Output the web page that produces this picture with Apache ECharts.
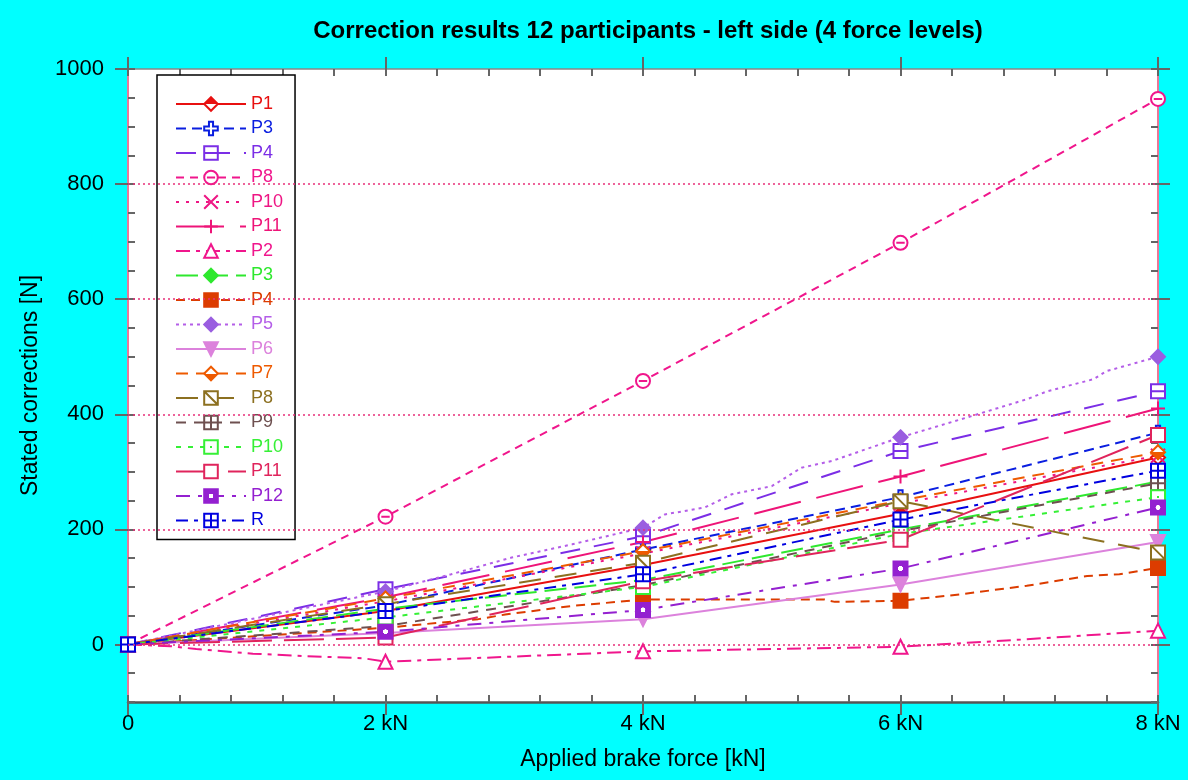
<!DOCTYPE html>
<html>
<head>
<meta charset="utf-8">
<script src="https://cdn.jsdelivr.net/npm/echarts@6/dist/echarts.min.js"></script>
<style>
  html, body { margin: 0; padding: 0; background: #00ffff; }
  #chart { width: 1188px; height: 780px; }
</style>
</head>
<body>
<div id="chart"></div>
<script>
// force levels (x) and stated corrections per participant (y)
const forceKN = [0, 2, 4, 6, 8];
const yLabelValues = [0, 200, 400, 600, 800, 1000];
const gridValues = [0, 200, 400, 600, 800];

const p1 = [0, 58, 138, 227, 325];
const p3 = [0, 68, 165, 256, 368];
const p4 = [0, 96, 188, 336, 440];
const p8 = [0, 222, 458, 698, 948];
const p10 = [0, 75, 158, 245, 328];
const p11 = [0, 82, 178, 292, 410];
const p2 = [0, -30, -12, -4, 24];
const p3b = [0, 62, 112, 200, 283];
const p4b = [0, 29, 78, 76, 133];
const p5 = [0, 92, 203, 360, 500];
const p6 = [0, 20, 44, 104, 178];
const p7 = [0, 80, 162, 250, 334];
const p8b = [0, 70, 142, 249, 160];
const p9 = [0, 32, 103, 197, 280];
const p10b = [0, 47, 100, 192, 256];
const p11b = [0, 12, 110, 182, 364];
const p12 = [0, 22, 60, 132, 238];
const r = [0, 58, 122, 217, 302];

// bends of the curves between the force levels (no marker there)
const p5Bends = [[2.51, 122], [2.98, 151], [3.45, 174], [4.17, 226], [4.48, 238], [4.69, 261], [5.0, 275],
  [5.23, 307], [5.47, 319], [6.51, 394], [6.98, 426], [7.14, 440], [7.5, 461], [7.6, 475]];
const p4bBends = [[2.72, 44], [2.93, 52], [3.45, 67], [5.41, 78], [5.49, 74], [6.46, 87], [6.98, 102], [7.45, 119], [7.7, 122]];
const p2Bends = [[0.33, -3], [0.53, -8], [0.97, -16], [1.36, -20], [1.83, -24], [6.98, 9]];

const FONT = 'Liberation Sans, Arial, sans-serif';

const SYM = {
  openCross: 'path://M3.5,0H6.5V3.5H10V6.5H6.5V10H3.5V6.5H0V3.5H3.5Z',
  squareHLine: 'path://M0,0H10V10H0Z M0,5H10',
  circleHLine: 'path://M0,5A5,5,0,1,1,10,5A5,5,0,1,1,0,5Z M2,5H8',
  cross: 'path://M0,0L10,10M10,0L0,10',
  plus: 'path://M5,0V10M0,5H10',
  squareDiag: 'path://M0,0H10V10H0Z M0,0L10,10',
  squareGrid: 'path://M0,0H10V10H0Z M5,0V10 M0,5H10'
};

function halfFill(top, bottom) {
  return new echarts.graphic.LinearGradient(0, 0, 0, 1, [
    { offset: 0, color: top }, { offset: 0.5, color: top },
    { offset: 0.5, color: bottom }, { offset: 1, color: bottom }
  ]);
}
function dotFill(dot, rest, r0) {
  return new echarts.graphic.RadialGradient(0.5, 0.5, 0.5, [
    { offset: 0, color: dot }, { offset: r0, color: dot },
    { offset: r0 + 0.02, color: rest }, { offset: 1, color: rest }
  ]);
}

const defs = [
  { name: 'P1', label: 'P1', vals: p1, color: '#e81010', dash: 'solid', symbol: 'diamond', fill: halfFill('#e81010', '#fff') },
  { name: 'P3', label: 'P3', vals: p3, color: '#0a1ee0', dash: [10, 6], symbol: SYM.openCross, fill: '#fff' },
  { name: 'P4', label: 'P4', vals: p4, color: '#7b2ee6', dash: [20, 14], symbol: SYM.squareHLine, fill: '#fff' },
  { name: 'P8', label: 'P8', vals: p8, color: '#f0168c', dash: [8, 6], symbol: SYM.circleHLine, fill: '#fff' },
  { name: 'P10', label: 'P10', vals: p10, color: '#ee1684', dash: [3, 7], symbol: SYM.cross, fill: '#ee1684' },
  { name: 'P11', label: 'P11', vals: p11, color: '#ee1478', dash: [48, 16], symbol: SYM.plus, fill: '#ee1478' },
  { name: 'P2', label: 'P2', vals: p2, color: '#f0168c', dash: [14, 6, 4, 6], symbol: 'triangle', fill: '#fff', bends: p2Bends },
  { name: 'P3b', label: 'P3', vals: p3b, color: '#2ee82e', dash: [22, 8], symbol: 'diamond', fill: '#2ee82e' },
  { name: 'P4b', label: 'P4', vals: p4b, color: '#dc3c00', dash: [9, 6], symbol: 'rect', fill: '#dc3c00', bends: p4bBends },
  { name: 'P5', label: 'P5', vals: p5, color: '#b45ee8', dash: [3, 4], symbol: 'diamond', fill: '#9a5ee0', bends: p5Bends },
  { name: 'P6', label: 'P6', vals: p6, color: '#dc82dc', dash: 'solid', symbol: 'triangle', fill: '#dc82dc', rotate: 180 },
  { name: 'P7', label: 'P7', vals: p7, color: '#ee5a00', dash: [12, 8], symbol: 'diamond', fill: halfFill('#fff', '#ee5a00') },
  { name: 'P8b', label: 'P8', vals: p8b, color: '#8c7020', dash: [22, 14], symbol: SYM.squareDiag, fill: '#fff' },
  { name: 'P9', label: 'P9', vals: p9, color: '#6e5050', dash: [10, 8], symbol: SYM.squareGrid, fill: '#fff' },
  { name: 'P10b', label: 'P10', vals: p10b, color: '#36f036', dash: [5, 7], symbol: 'rect', fill: dotFill('#36f036', '#fff', 0.16) },
  { name: 'P11b', label: 'P11', vals: p11b, color: '#e0245c', dash: [40, 12], symbol: 'rect', fill: '#fff' },
  { name: 'P12', label: 'P12', vals: p12, color: '#9420d0', dash: [14, 8, 4, 8], symbol: 'rect', fill: dotFill('#fff', '#9420d0', 0.3) },
  { name: 'R', label: 'R', vals: r, color: '#0000e0', dash: [12, 6, 4, 6], symbol: SYM.squareGrid, fill: '#fff' }
];

function buildData(vals, bends) {
  const marks = forceKN.map((x, i) => [x, vals[i]]);
  const extra = (bends || []).map(p => ({ value: p, symbol: 'none' }));
  const key = d => (Array.isArray(d) ? d[0] : d.value[0]);
  return marks.concat(extra).sort((a, b) => key(a) - key(b));
}

const labelOf = {};
defs.forEach(d => { labelOf[d.name] = d.label; });

const series = defs.map((d, i) => {
  const s = {
    name: d.name,
    type: 'line',
    xAxisIndex: 0,
    yAxisIndex: 0,
    data: buildData(d.vals, d.bends),
    symbol: d.symbol,
    symbolSize: 14,
    symbolRotate: d.rotate || 0,
    showAllSymbol: true,
    color: d.color,
    lineStyle: { color: d.color, width: 2, type: d.dash },
    itemStyle: { color: d.fill, borderColor: d.color, borderWidth: 2, opacity: 1 },
    emphasis: { disabled: true },
    animation: false
  };
  if (d.name === 'P5') {
    s.itemStyle.borderColor = '#9a5ee0';
  }
  if (i === 0) {
    s.markLine = {
      silent: true,
      symbol: ['none', 'none'],
      label: { show: false },
      lineStyle: { color: '#e8307a', type: [2, 3], width: 1.6 },
      data: gridValues.map(v => ({ yAxis: v }))
    };
  }
  return s;
});

const tickStyle = { color: '#666', width: 2 };
const noLabel = { show: false };

function minorAxis(pos, min, max, step) {
  return {
    type: 'value', gridIndex: 1, position: pos, min: min, max: max, interval: step,
    axisLine: { show: false, onZero: false },
    axisTick: { show: true, inside: true, length: 7, lineStyle: tickStyle },
    axisLabel: noLabel,
    splitLine: { show: false }
  };
}

const chart = echarts.init(document.getElementById('chart'), null, { renderer: 'canvas' });
chart.setOption({
  backgroundColor: '#00ffff',
  animation: false,
  textStyle: { fontFamily: FONT },
  title: {
    text: 'Correction results 12 participants - left side (4 force levels)',
    left: 643,
    top: 14,
    textAlign: 'center',
    textStyle: { fontFamily: FONT, fontSize: 24, fontWeight: 'bold', color: '#000' }
  },
  legend: {
    orient: 'vertical',
    left: 157,
    top: 75,
    padding: [20, 12, 10, 18],
    itemWidth: 70,
    itemHeight: 17,
    itemGap: 6.5,
    borderColor: '#000',
    borderWidth: 1.5,
    backgroundColor: '#fff',
    selectedMode: false,
    formatter: name => labelOf[name],
    textStyle: { fontFamily: FONT, fontSize: 18, lineHeight: 17 },
    data: defs.map(d => ({ name: d.name, textStyle: { color: d.color } }))
  },
  grid: [
    { left: 128, right: 30, top: 69, bottom: 78, show: true, backgroundColor: '#fff', borderWidth: 0 },
    { left: 128, right: 30, top: 69, bottom: 78, show: false }
  ],
  xAxis: [
    {
      type: 'value', gridIndex: 0, position: 'bottom', min: 0, max: 8, interval: 2,
      name: 'Applied brake force [kN]', nameLocation: 'middle', nameGap: 46,
      nameTextStyle: { fontFamily: FONT, fontSize: 23, color: '#000' },
      axisLine: { onZero: false, lineStyle: { color: '#555', width: 2.5 } },
      axisTick: { length: 13, lineStyle: tickStyle },
      axisLabel: { fontFamily: FONT, fontSize: 22, color: '#000', margin: 11, formatter: v => (v === 0 ? '0' : v + ' kN') },
      splitLine: { show: false }
    },
    {
      type: 'value', gridIndex: 0, position: 'top', min: 0, max: 8, interval: 2,
      axisLine: { onZero: false, lineStyle: { color: '#888', width: 1.5 } },
      axisTick: { length: 12, lineStyle: tickStyle },
      axisLabel: noLabel,
      splitLine: { show: false }
    },
    minorAxis('bottom', 0, 8, 0.4),
    minorAxis('top', 0, 8, 0.4)
  ],
  yAxis: [
    {
      type: 'value', gridIndex: 0, position: 'left', min: -100, max: 1000, interval: 100,
      name: 'Stated corrections [N]', nameLocation: 'middle', nameGap: 86,
      nameTextStyle: { fontFamily: FONT, fontSize: 23, color: '#000' },
      axisLine: { show: true, onZero: false, lineStyle: { color: '#e8789a', width: 2 } },
      axisTick: { length: 13, lineStyle: tickStyle, customValues: yLabelValues },
      axisLabel: { fontFamily: FONT, fontSize: 22, color: '#000', margin: 24, customValues: yLabelValues, formatter: v => String(v) },
      splitLine: { show: false }
    },
    {
      type: 'value', gridIndex: 0, position: 'right', min: -100, max: 1000, interval: 100,
      axisLine: { show: true, onZero: false, lineStyle: { color: '#e8789a', width: 2 } },
      axisTick: { length: 12, lineStyle: tickStyle, customValues: yLabelValues },
      axisLabel: { show: false, customValues: yLabelValues },
      splitLine: { show: false }
    },
    minorAxis('left', -100, 1000, 50),
    minorAxis('right', -100, 1000, 50)
  ],
  series: series
});
</script>
</body>
</html>
